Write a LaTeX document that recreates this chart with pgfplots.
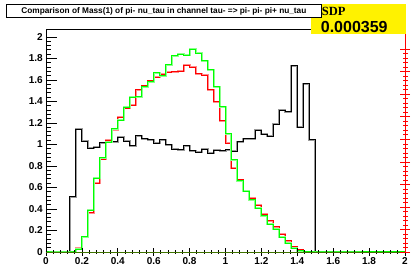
\documentclass[border=0pt]{standalone}
\usepackage{fontspec}
\setmainfont{Liberation Sans}
\newfontfamily\serifb{Liberation Serif}
\usepackage{pgfplots}
\pgfplotsset{compat=1.18}
\usepackage{pgfplotstable}
\definecolor{hred}{rgb}{1,0,0}
\definecolor{hgreen}{rgb}{0,1,0}
\definecolor{oliveline}{rgb}{0.25,0.45,0.0}

\pgfplotstableread{
x blk rd grn
0 0 0 0
0.0333 0 0 0
0.0667 0 0 0
0.1 0 0 0
0.1333 0.515 0 0
0.1667 1.14 0.034 0.025
0.2 1.03 0.137 0.143
0.2333 0.965 0.363 0.39
0.2667 0.974 0.638 0.685
0.3 1.015 0.861 0.878
0.3333 1.042 1.038 1.023
0.3667 1.025 1.135 1.147
0.4 1.067 1.252 1.225
0.4333 1.03 1.336 1.346
0.4667 0.986 1.367 1.439
0.5 1.083 1.51 1.442
0.5333 1.052 1.548 1.538
0.5667 1.045 1.592 1.584
0.6 1.011 1.625 1.665
0.6333 1.045 1.652 1.64
0.6667 0.997 1.672 1.74
0.7 0.957 1.678 1.823
0.7333 0.949 1.682 1.839
0.7667 0.986 1.736 1.83
0.8 0.942 1.716 1.886
0.8333 0.928 1.66 1.848
0.8667 0.956 1.645 1.78
0.9 0.92 1.507 1.693
0.9333 0.945 1.398 1.538
0.9667 0.94 1.221 1.35
1 0.952 1.011 1.102
1.0333 0.937 0.778 0.86
1.0667 1.026 0.67 0.662
1.1 1.052 0.57 0.567
1.1333 1.052 0.499 0.484
1.1667 1.132 0.437 0.407
1.2 1.095 0.353 0.335
1.2333 1.075 0.291 0.257
1.2667 1.19 0.235 0.211
1.3 1.318 0.167 0.136
1.3333 1.303 0.105 0.08
1.3667 1.733 0.05 0.034
1.4 1.16 0.019 0.012
1.4333 1.563 0.004 0.003
1.4667 1.042 0 0
1.5 0 0 0
2 0 0 0
}\hist

\begin{document}
\begin{tikzpicture}
\pgfplotsset{
  base/.style={scale only axis, width=359pt, height=223pt,
    at={(46pt,18pt)}, anchor=south west, xmin=0, xmax=2,
    tick label style={font=\fontsize{10}{12}\selectfont\bfseries},
    /pgf/number format/assume math mode=true,
    tick align=inside,
    axis line style={line width=0.8pt},
    tick style={line width=0.8pt}}
}
\begin{axis}[base, ymin=0, ymax=2.074, xtick=\empty,
  ytick={0,0.2,0.4,0.6,0.8,1,1.2,1.4,1.6,1.8,2},
  minor y tick num=4, ytick pos=left,
  major tick length=10.5pt, minor tick length=5pt,
  tick style={black},
  yticklabel style={inner sep=3pt}]
\addplot[const plot, draw=black!40, line width=2pt] table[x=x,y=blk]{\hist};
\addplot[const plot, draw=black, line width=1pt] table[x=x,y=blk]{\hist};
\addplot[const plot, draw=hred!45, line width=2pt] table[x=x,y=rd]{\hist};
\addplot[const plot, draw=hred, line width=1pt] table[x=x,y=rd]{\hist};
\addplot[const plot, draw=hgreen!45, line width=2pt] table[x=x,y=grn]{\hist};
\addplot[const plot, draw=hgreen, line width=1pt] table[x=x,y=grn]{\hist};
\end{axis}
\begin{axis}[base, ymin=0, ymax=2.074, hide y axis,
  axis x line=bottom, axis line style={-, oliveline},
  xtick={0,0.2,0.4,0.6,0.8,1,1.2,1.4,1.6,1.8,2},
  minor x tick num=4,
  major tick length=7pt, minor tick length=3.5pt,
  tick style={black},
  xticklabel style={inner sep=2pt}]
\end{axis}
\begin{axis}[base, ymin=0, ymax=4951, hide x axis,
  axis y line=right, axis line style={-, hred},
  ytick={0,500,1000,1500,2000,2500,3000,3500,4000,4500},
  minor y tick num=4,
  major tick length=10pt, minor tick length=5pt,
  tick style={hred},
  /pgf/number format/1000 sep={},
  yticklabel style={inner sep=2.7pt}]
\end{axis}
\fill[yellow] (311pt,236pt) rectangle (406pt,266pt);
\node[draw=black, line width=0.8pt, fill=white, minimum width=315pt,
  minimum height=13pt, inner sep=0pt, anchor=north west] at (6pt,266pt)
  {\resizebox{285pt}{!}{\bfseries Comparison of Mass(1) of pi- nu\_tau in channel tau- => pi- pi- pi+ nu\_tau}};
\node[anchor=base west, inner sep=0pt] at (321.7pt,254pt)
  {\serifb\bfseries\fontsize{12.5}{14}\selectfont SDP};
\node[anchor=base west, inner sep=0pt] at (320.7pt,237.7pt)
  {\bfseries\fontsize{16}{18}\selectfont 0.000359};
\pgfresetboundingbox
\useasboundingbox (0,0) rectangle (412pt,270pt);
\end{tikzpicture}
\end{document}
